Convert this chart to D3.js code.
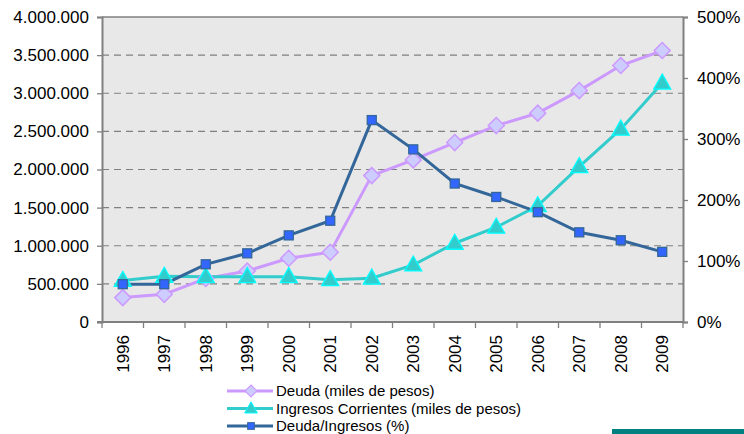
<!DOCTYPE html>
<html>
<head>
<meta charset="utf-8">
<script src="https://cdn.jsdelivr.net/npm/d3@7"></script>
<style>
  body { margin: 0; background: #fff; }
  text { font-family: "Liberation Sans", Arial, sans-serif; fill: #000; }
</style>
</head>
<body>
<svg id="chart" width="744" height="434"></svg>
<script>
// data
const years = ["1996", "1997", "1998", "1999", "2000", "2001", "2002",
  "2003", "2004", "2005", "2006", "2007", "2008", "2009"];
const deuda = [320000, 363000, 570000, 669000, 836000, 915000, 1920000,
  2126000, 2353000, 2576000, 2739000, 3035000, 3364000, 3560000];
const ingresos = [545000, 600000, 595000, 595000, 595000, 555000, 575000,
  748000, 1033000, 1243000, 1525000, 2038000, 2529000, 3133000];
const ratio = [0.62, 0.62, 0.946, 1.126, 1.42, 1.66, 3.31,
  2.83, 2.27, 2.05, 1.80, 1.47, 1.34, 1.15];
const leftTicks = [0, 500000, 1000000, 1500000, 2000000, 2500000, 3000000, 3500000, 4000000];
const rightTicks = [0, 1, 2, 3, 4, 5];
const legendLabels = ["Deuda (miles de pesos)", "Ingresos Corrientes (miles de pesos)", "Deuda/Ingresos (%)"];

const svg = d3.select("#chart");
const pLeft = 102, pRight = 683, pTop = 17, pBottom = 322;

const x = d3.scaleBand().domain(years).range([pLeft, pRight]);
const cx = d => x(d) + x.bandwidth() / 2;
const yL = d3.scaleLinear().domain([0, 4000000]).range([pBottom, pTop]);
const yR = d3.scaleLinear().domain([0, 5]).range([pBottom, pTop]);

const es = d3.formatLocale({decimal: ",", thousands: ".", grouping: [3], currency: ["$", ""]});
const fmtL = es.format(",.0f");

// plot background
svg.append("rect")
  .attr("x", pLeft).attr("y", pTop)
  .attr("width", pRight - pLeft).attr("height", pBottom - pTop)
  .attr("fill", "#e8e8e8");

// dashed gridlines
svg.append("g").selectAll("line").data(leftTicks.filter(v => v > 0 && v < 4000000))
  .join("line")
  .attr("x1", pLeft).attr("x2", pRight)
  .attr("y1", d => yL(d)).attr("y2", d => yL(d))
  .attr("stroke", "#808080")
  .attr("stroke-width", 1.2)
  .attr("stroke-dasharray", "7,5");

// top border
svg.append("line")
  .attr("x1", pLeft).attr("x2", pRight).attr("y1", pTop).attr("y2", pTop)
  .attr("stroke", "#808080").attr("stroke-width", 1.3);

// left axis
const axL = svg.append("g").attr("transform", `translate(${pLeft},0)`)
  .call(d3.axisLeft(yL).tickValues(leftTicks).tickFormat(fmtL).tickSize(5).tickPadding(8));
axL.select(".domain").attr("stroke", "#808080").attr("stroke-width", 2);
axL.selectAll(".tick line").attr("stroke", "#808080").attr("stroke-width", 1.3);
axL.selectAll("text").style("font-size", "17px").attr("fill", "#000");

// right axis
const axR = svg.append("g").attr("transform", `translate(${pRight},0)`)
  .call(d3.axisRight(yR).tickValues(rightTicks).tickFormat(d3.format(".0%")).tickSize(5).tickPadding(9));
axR.select(".domain").attr("stroke", "#808080").attr("stroke-width", 2);
axR.selectAll(".tick line").attr("stroke", "#808080").attr("stroke-width", 1.3);
axR.selectAll("text").style("font-size", "17px").attr("fill", "#000");

// bottom axis
const axB = svg.append("g").attr("transform", `translate(0,${pBottom})`);
axB.append("line").attr("x1", pLeft - 5).attr("x2", pRight)
  .attr("stroke", "#808080").attr("stroke-width", 2);
axB.selectAll("line.tk").data(years.concat(["end"]))
  .join("line").attr("class", "tk")
  .attr("x1", (d, i) => i < years.length ? x(d) : pRight)
  .attr("x2", (d, i) => i < years.length ? x(d) : pRight)
  .attr("y1", 0).attr("y2", 6)
  .attr("stroke", "#808080").attr("stroke-width", 1.3);
axB.selectAll("text").data(years)
  .join("text")
  .attr("transform", d => `translate(${cx(d) + 6},13) rotate(-90)`)
  .attr("text-anchor", "end")
  .style("font-size", "17px")
  .text(d => d);

// series
const series = [
  {vals: deuda, y: yL, line: "#cc99ff", fill: "#ccccff", stroke: "#cc99ff", shape: "diamond"},
  {vals: ingresos, y: yL, line: "#33cccc", fill: "#33cccc", stroke: "#00ffff", shape: "triangle"},
  {vals: ratio, y: yR, line: "#336699", fill: "#3366ff", stroke: "#336699", shape: "square"}
];

function marker(g, shape, fill, stroke) {
  if (shape === "diamond") {
    g.append("path").attr("d", "M0,-8L8,0L0,8L-8,0Z")
      .attr("fill", fill).attr("stroke", stroke).attr("stroke-width", 1.5);
  } else if (shape === "triangle") {
    g.append("path").attr("d", "M0,-9L8.5,6L-8.5,6Z")
      .attr("fill", fill).attr("stroke", stroke).attr("stroke-width", 1.3);
  } else {
    g.append("rect").attr("x", -4.5).attr("y", -4.5).attr("width", 9).attr("height", 9)
      .attr("fill", fill).attr("stroke", stroke).attr("stroke-width", 1.3);
  }
}

series.forEach(s => {
  const line = d3.line().x((d, i) => cx(years[i])).y(d => s.y(d));
  svg.append("path").datum(s.vals)
    .attr("d", line)
    .attr("fill", "none")
    .attr("stroke", s.line)
    .attr("stroke-width", 3);
});
series.forEach(s => {
  svg.append("g").selectAll("g").data(s.vals)
    .join("g")
    .attr("transform", (d, i) => `translate(${cx(years[i])},${s.y(d)})`)
    .each(function() { marker(d3.select(this), s.shape, s.fill, s.stroke); });
});

// legend
const leg = svg.append("g").attr("transform", "translate(227,391)");
series.forEach((s, i) => {
  const row = leg.append("g").attr("transform", `translate(0,${i * 17.5})`);
  row.append("line").attr("x1", 0).attr("x2", 46)
    .attr("stroke", s.line).attr("stroke-width", 3);
  const m = row.append("g").attr("transform", "translate(24,0) scale(0.75)");
  marker(m, s.shape, s.fill, s.stroke);
  row.append("text").attr("x", 49).attr("dy", "0.35em")
    .style("font-size", "15px")
    .text(legendLabels[i]);
});

// teal bar bottom right
svg.append("rect").attr("x", 612).attr("y", 429).attr("width", 132).attr("height", 5)
  .attr("fill", "#008080");
</script>
</body>
</html>
